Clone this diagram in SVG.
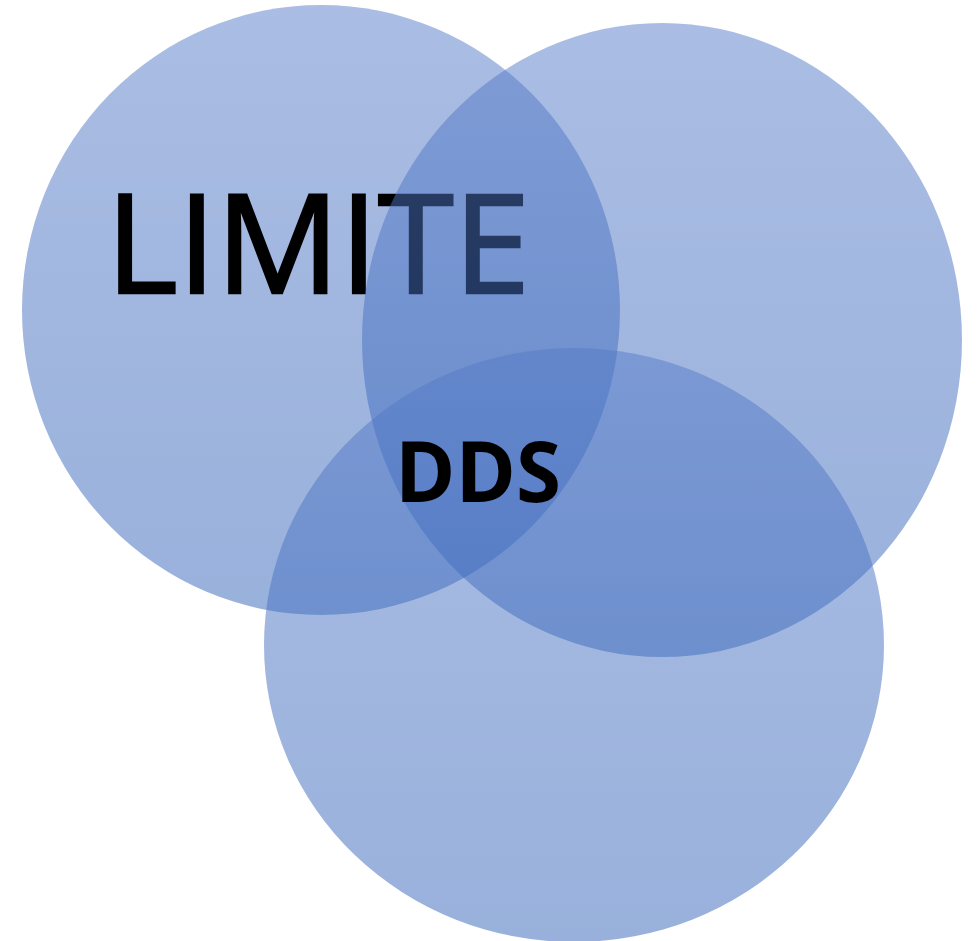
<svg xmlns="http://www.w3.org/2000/svg" width="978" height="941" viewBox="0 0 978 941">
<defs>
<linearGradient id="g" x1="0" y1="0" x2="0" y2="1">
<stop offset="0" stop-color="#567bc8"/>
<stop offset="1" stop-color="#3263b8"/>
</linearGradient>
<style>
.c{fill:url(#g);fill-opacity:0.5}
.t{font-family:"Open Sans","Liberation Sans",sans-serif;fill:#000}
</style>
</defs>
<rect width="978" height="941" fill="#fff"/>
<g id="circle1"><ellipse class="c" cx="321" cy="310" rx="299" ry="305"/></g>
<g id="label-limite"><text class="t" x="106" y="293" font-size="137" stroke="#000" stroke-width="2.5" textLength="424" lengthAdjust="spacingAndGlyphs">LIMITE</text></g>
<g id="circle2"><ellipse class="c" cx="662" cy="340" rx="300" ry="317"/></g>
<g id="circle3"><ellipse class="c" cx="574" cy="645" rx="310" ry="297"/></g>
<g id="label-dds"><text class="t" x="395" y="502" font-size="84" font-weight="bold" textLength="166" lengthAdjust="spacingAndGlyphs">DDS</text></g>
</svg>
